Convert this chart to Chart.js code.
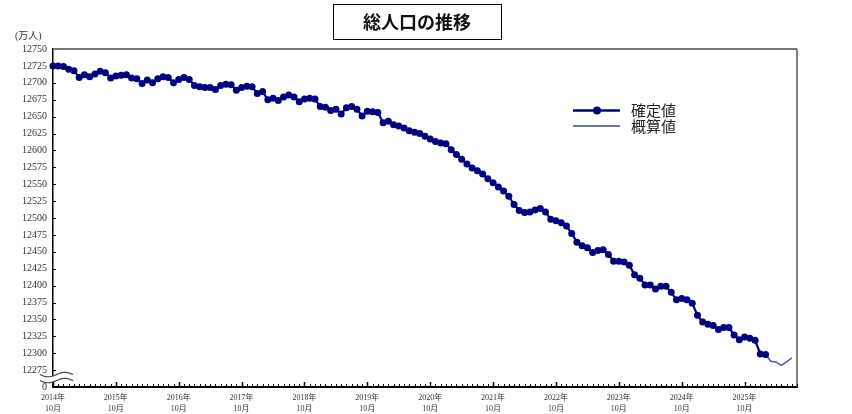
<!DOCTYPE html>
<html>
<head>
<meta charset="utf-8">
<script src="https://cdn.jsdelivr.net/npm/chart.js@4"></script>
<style>
  body { margin: 0; background: #fff; }
</style>
</head>
<body>
<canvas id="popChart" width="852" height="414"></canvas>
<script>
// month labels, Oct 2014 .. Aug 2026
const startYear = 2014;
const startMonth = 10;
const monthCount = 143;

// 確定値 (万人), from 2014-10 monthly
const confirmed = [
  12725, 12725, 12724, 12720, 12718, 12708, 12712, 12709, 12713, 12717, 12715, 12707,
  12710, 12711, 12712, 12707, 12706, 12699, 12704, 12700, 12706, 12709, 12708, 12700,
  12705, 12708, 12705, 12696, 12694, 12693, 12693, 12690, 12696, 12698, 12697, 12689,
  12693, 12695, 12694, 12684, 12687, 12675, 12677, 12674, 12679, 12682, 12679, 12672,
  12676, 12677, 12676, 12665, 12664, 12659, 12661, 12654, 12663, 12665, 12661, 12651,
  12658, 12657, 12656, 12641, 12643, 12638, 12636, 12633, 12629, 12627, 12625, 12621,
  12617, 12613, 12611, 12610, 12601, 12594, 12587, 12580, 12574, 12570, 12565, 12558,
  12552, 12546, 12540, 12532, 12520, 12511, 12508, 12509, 12512, 12514, 12509, 12498,
  12496, 12493, 12488, 12477, 12464, 12459, 12456, 12449, 12452, 12453, 12446, 12436,
  12436, 12435, 12430, 12416, 12411, 12401, 12401, 12395, 12399, 12399, 12390, 12379,
  12381, 12379, 12374, 12356, 12346, 12343, 12341, 12335, 12338, 12338, 12327, 12320,
  12324, 12322, 12319, 12299, 12298
];

// 概算値, starting at the last confirmed month
const estimateStart = 136;
const estimate = [12298, 12288, 12287, 12282, 12287, 12293];

const yTicks = [12250, 12750, 25];

const labels = [];
for (let i = 0; i < monthCount; i++) {
  const m = (startMonth - 1 + i) % 12 + 1;
  const yr = startYear + Math.floor((startMonth - 1 + i) / 12);
  labels.push(m === 10 ? [yr + '年', m + '月'] : '');
}

const confirmedData = labels.map((_, i) => i < confirmed.length ? confirmed[i] : null);
const estimateData = labels.map((_, i) => {
  const k = i - estimateStart;
  return k >= 0 && k < estimate.length ? estimate[k] : null;
});

const NAVY = '#000080';
const EST = '#4a55a2';
const JP = '"Noto Sans CJK JP", "Noto Sans", sans-serif';
const NUM = '"Liberation Serif", "Noto Sans CJK JP", serif';

const decor = {
  id: 'decor',
  afterDraw(chart) {
    const { ctx, chartArea: a, scales: { x, y } } = chart;
    ctx.save();

    // top and right frame
    ctx.strokeStyle = '#777';
    ctx.lineWidth = 2;
    ctx.beginPath();
    ctx.moveTo(a.left, a.top);
    ctx.lineTo(a.right, a.top);
    ctx.stroke();
    ctx.lineWidth = 1.5;
    ctx.strokeStyle = '#555';
    ctx.beginPath();
    ctx.moveTo(a.right, a.top);
    ctx.lineTo(a.right, a.bottom);
    ctx.stroke();

    // y ticks inside
    ctx.strokeStyle = '#000';
    ctx.lineWidth = 1;
    for (let v = yTicks[0] + yTicks[2]; v < yTicks[1]; v += yTicks[2]) {
      const py = Math.round(y.getPixelForValue(v)) + 0.5;
      ctx.beginPath();
      ctx.moveTo(a.left, py);
      ctx.lineTo(a.left + 3, py);
      ctx.stroke();
    }

    // x ticks inside (monthly, longer in October)
    for (let i = 0; i < monthCount; i++) {
      const px = Math.round(x.getPixelForValue(i)) + 0.5;
      const len = labels[i] ? 5 : 3;
      ctx.lineWidth = labels[i] ? 1.5 : 1;
      ctx.beginPath();
      ctx.moveTo(px, a.bottom);
      ctx.lineTo(px, a.bottom - len);
      ctx.stroke();
    }

    // axis break mark
    const by = (y.getPixelForValue(12275) + y.getPixelForValue(12250)) / 2 - 1;
    const bx0 = 40, bx1 = 73, amp = 2.2, gap = 3;
    const yAt = (px, off) => by + off + amp * Math.sin((px - bx0) / (bx1 - bx0) * Math.PI * 2);
    ctx.fillStyle = '#fff';
    ctx.beginPath();
    for (let px = bx0; px <= bx1; px++) {
      if (px === bx0) ctx.moveTo(px, yAt(px, -gap)); else ctx.lineTo(px, yAt(px, -gap));
    }
    for (let px = bx1; px >= bx0; px--) ctx.lineTo(px, yAt(px, gap));
    ctx.closePath();
    ctx.fill();
    ctx.strokeStyle = '#444';
    ctx.lineWidth = 1.2;
    [-gap, gap].forEach(off => {
      ctx.beginPath();
      for (let px = bx0; px <= bx1; px++) {
        if (px === bx0) ctx.moveTo(px, yAt(px, off)); else ctx.lineTo(px, yAt(px, off));
      }
      ctx.stroke();
    });

    // unit
    ctx.fillStyle = '#333';
    ctx.font = '10px ' + NUM;
    ctx.textAlign = 'left';
    ctx.textBaseline = 'middle';
    ctx.fillText('(万人)', 15, 36);

    // title box
    ctx.strokeStyle = '#000';
    ctx.lineWidth = 1;
    ctx.strokeRect(333.5, 4.5, 168, 35);
    ctx.fillStyle = '#111';
    ctx.font = 'bold 18px ' + JP;
    ctx.textAlign = 'center';
    ctx.fillText('総人口の推移', 417, 22);

    // legend
    ctx.strokeStyle = NAVY;
    ctx.lineWidth = 2.5;
    ctx.beginPath();
    ctx.moveTo(573, 110.5);
    ctx.lineTo(620, 110.5);
    ctx.stroke();
    ctx.fillStyle = NAVY;
    ctx.beginPath();
    ctx.arc(597, 110.5, 4, 0, Math.PI * 2);
    ctx.fill();
    ctx.strokeStyle = '#3d4a8a';
    ctx.lineWidth = 1.5;
    ctx.beginPath();
    ctx.moveTo(573, 126);
    ctx.lineTo(620, 126);
    ctx.stroke();
    ctx.fillStyle = '#222';
    ctx.font = '15px ' + JP;
    ctx.textAlign = 'left';
    ctx.fillText('確定値', 631, 110);
    ctx.fillText('概算値', 631, 126);

    ctx.restore();
  }
};

new Chart(document.getElementById('popChart'), {
  type: 'line',
  data: {
    labels: labels,
    datasets: [
      {
        label: '確定値',
        data: confirmedData,
        borderColor: NAVY,
        backgroundColor: NAVY,
        borderWidth: 2.2,
        pointRadius: 3.5,
        pointBorderWidth: 0,
        pointBackgroundColor: NAVY,
        spanGaps: false
      },
      {
        label: '概算値',
        data: estimateData,
        borderColor: EST,
        borderWidth: 1.5,
        pointRadius: 0,
        spanGaps: false
      }
    ]
  },
  options: {
    responsive: false,
    animation: false,
    layout: { padding: { top: 49, right: 55, left: 0, bottom: 0 } },
    plugins: {
      legend: { display: false },
      tooltip: { enabled: false }
    },
    scales: {
      x: {
        type: 'category',
        offset: false,
        grid: { display: false, drawTicks: false },
        border: { display: true, color: '#000', width: 2 },
        ticks: {
          autoSkip: false,
          maxRotation: 0,
          padding: 5,
          color: '#333',
          font: { family: NUM, size: 8, lineHeight: 1.45 }
        },
        afterFit(scale) { scale.height = 27; }
      },
      y: {
        min: yTicks[0],
        max: yTicks[1],
        grid: { display: false, drawTicks: false },
        border: { display: true, color: '#000', width: 1.5 },
        ticks: {
          stepSize: yTicks[2],
          padding: 6,
          color: '#333',
          font: { family: NUM, size: 10 },
          callback: (v) => v === yTicks[0] ? '0' : v
        },
        afterFit(scale) { scale.width = 53; }
      }
    }
  },
  plugins: [decor]
});
</script>
</body>
</html>
